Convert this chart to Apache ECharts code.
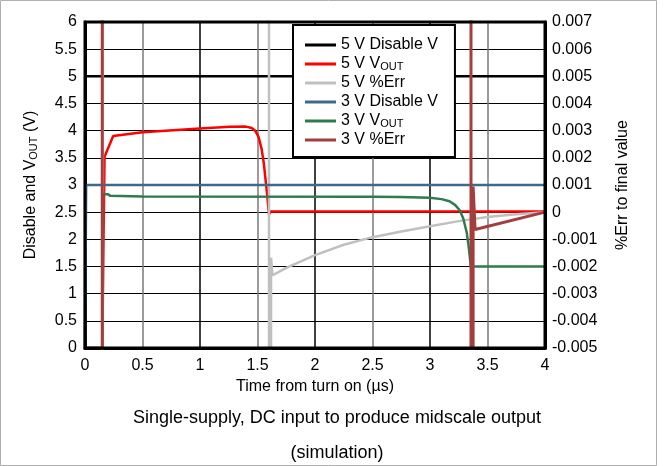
<!DOCTYPE html>
<html>
<head>
<meta charset="utf-8">
<script src="https://cdn.jsdelivr.net/npm/echarts@6/dist/echarts.min.js"></script>
<style>
  html, body { margin: 0; padding: 0; background: #fff; }
  #chart { width: 665px; height: 466px; }
</style>
</head>
<body>
<div id="chart"></div>
<script>
// x axis ticks (µs)
var timeTicks = [0, 0.5, 1, 1.5, 2, 2.5, 3, 3.5, 4];

// [time, volts] - left axis
var disable5 = [[0, 0], [0.002, 5], [4, 5]];
var vout5 = [[0, 0], [0.15, 0], [0.17, 3.52], [0.245, 3.9], [0.5, 3.97], [1.0, 4.04], [1.26, 4.07],
  [1.4, 4.075], [1.45, 4.05], [1.48, 4.0], [1.51, 3.88], [1.536, 3.66], [1.555, 3.4], [1.57, 3.1],
  [1.585, 2.8], [1.6, 2.46], [1.612, 2.51], [4, 2.51]];
var disable3 = [[0, 0], [0.008, 0], [0.01, 3], [4, 3]];
var vout3 = [[0, 0], [0.15, 0], [0.155, 2.83], [0.2, 2.83], [0.22, 2.8], [0.5, 2.79], [2.5, 2.785],
  [2.74, 2.78], [3.0, 2.765], [3.1, 2.74], [3.17, 2.7], [3.22, 2.63], [3.26, 2.53], [3.29, 2.38],
  [3.32, 2.12], [3.34, 1.8], [3.355, 1.5], [4, 1.5]];

// [time, fraction] - right axis (off-scale values are clipped)
var err5 = [[0, -1], [0.153, -1], [0.158, 1], [1.598, 1], [1.602, -1], [1.614, -1], [1.618, -0.00168],
  [1.63, -0.00232], [1.65, -0.00228], [1.75, -0.00205], [2.0, -0.00158], [2.25, -0.0012], [2.5, -0.00092],
  [2.75, -0.00071], [3.0, -0.00052], [3.25, -0.00033], [3.5, -0.00018], [3.75, -0.00008], [4, 0]];
var err3 = [[0, -1], [0.148, -1], [0.152, 1], [3.355, 1], [3.358, -1], [3.372, -1], [3.375, 0.00094],
  [3.39, 0.00094], [3.392, -0.00064], [4, 0]];

var seriesNames = ['5 V Disable V', '5 V VOUT', '5 V %Err', '3 V Disable V', '3 V VOUT', '3 V %Err'];
var seriesColors = ['#000000', '#ff0000', '#c0c0c0', '#3c6a88', '#2f7a4f', '#a43e3e'];

var font = 'Liberation Sans, Arial, sans-serif';

var chart = echarts.init(document.getElementById('chart'));

function mkLine(idx, data, yIdx, width) {
  return {
    name: seriesNames[idx],
    type: 'line',
    yAxisIndex: yIdx,
    data: data,
    symbol: 'none',
    animation: false,
    color: seriesColors[idx],
    lineStyle: { width: width, color: seriesColors[idx] },
    z: 2 + idx
  };
}

var option = {
  backgroundColor: '#fff',
  title: {
    text: 'Single-supply, DC input to produce midscale output\n(simulation)',
    left: 332,
    textAlign: 'center',
    top: 396,
    textStyle: { fontFamily: font, fontSize: 18, fontWeight: 'normal', color: '#000', lineHeight: 35 }
  },
  graphic: [{
    type: 'rect',
    shape: { x: 0.5, y: 0.5, width: 656, height: 465 },
    style: { fill: 'none', stroke: '#b0b0b0', lineWidth: 1 },
    silent: true
  }],
  legend: {
    orient: 'vertical',
    left: 293,
    top: 25,
    padding: [12, 17, 9, 12],
    itemGap: 3,
    itemWidth: 31,
    itemHeight: 3,
    icon: 'rect',
    backgroundColor: '#fff',
    borderColor: '#000',
    borderWidth: 2,
    data: seriesNames,
    formatter: function (name) {
      if (name.indexOf('VOUT') >= 0) {
        return '{t|' + name.replace('VOUT', 'V') + '}{sub|OUT}';
      }
      return '{t|' + name + '}';
    },
    textStyle: {
      fontFamily: font,
      fontSize: 16,
      color: '#000',
      rich: {
        t: { fontFamily: font, fontSize: 16, lineHeight: 16, color: '#000' },
        sub: { fontFamily: font, fontSize: 11, verticalAlign: 'bottom', color: '#000' }
      }
    }
  },
  grid: {
    left: 85,
    right: 120,
    top: 22,
    bottom: 118,
    show: true,
    borderColor: '#000',
    borderWidth: 3,
    z: 10
  },
  xAxis: {
    type: 'value',
    min: timeTicks[0],
    max: timeTicks[timeTicks.length - 1],
    interval: 0.5,
    name: 'Time from turn on (µs)',
    nameLocation: 'middle',
    nameGap: 29,
    nameTextStyle: { fontFamily: font, fontSize: 16, color: '#000' },
    axisLine: { show: true, lineStyle: { color: '#000', width: 3 } },
    axisTick: { show: false },
    axisLabel: { fontFamily: font, fontSize: 16, color: '#000', margin: 10 },
    splitLine: { show: true, lineStyle: { color: ['#000', '#7a7a7a'], width: 1.5 } }
  },
  yAxis: [{
    type: 'value',
    min: 0,
    max: 6,
    interval: 0.5,
    position: 'left',
    name: '{t|Disable and V}{sub|OUT}{t| (V)}',
    nameLocation: 'middle',
    nameRotate: 90,
    nameGap: 46,
    nameTextStyle: {
      fontFamily: font,
      fontSize: 16,
      color: '#000',
      rich: {
        t: { fontFamily: font, fontSize: 16, lineHeight: 16, color: '#000' },
        sub: { fontFamily: font, fontSize: 11, verticalAlign: 'bottom', color: '#000' }
      }
    },
    axisLine: { show: true, lineStyle: { color: '#000', width: 3 } },
    axisTick: { show: false },
    axisLabel: { fontFamily: font, fontSize: 16, color: '#000', margin: 8 },
    splitLine: { show: true, lineStyle: { color: '#000', width: 1 } }
  }, {
    type: 'value',
    min: -0.005,
    max: 0.007,
    interval: 0.001,
    position: 'right',
    name: '%Err to final value',
    nameLocation: 'middle',
    nameRotate: 90,
    nameGap: 70,
    nameTextStyle: { fontFamily: font, fontSize: 16, color: '#000' },
    axisLine: { show: true, lineStyle: { color: '#000', width: 3 } },
    axisTick: { show: false },
    axisLabel: {
      fontFamily: font, fontSize: 16, color: '#000', margin: 7,
      formatter: function (v) {
        if (Math.abs(v) < 1e-9) return '0';
        return v.toFixed(3);
      }
    },
    splitLine: { show: false }
  }],
  series: [
    mkLine(0, disable5, 0, 2.5),
    mkLine(1, vout5, 0, 2.5),
    mkLine(2, err5, 1, 2.5),
    mkLine(3, disable3, 0, 2.5),
    mkLine(4, vout3, 0, 2.5),
    mkLine(5, err3, 1, 3)
  ]
};
chart.setOption(option);
</script>
</body>
</html>
